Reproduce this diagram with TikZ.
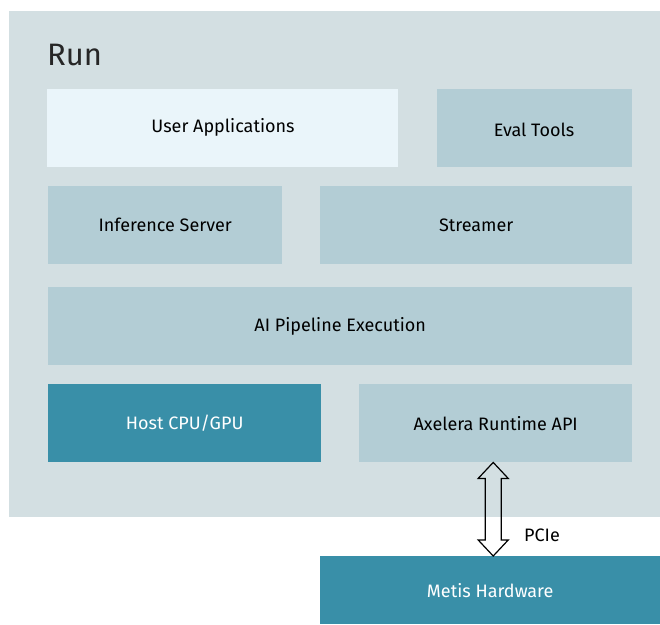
\documentclass[tikz,border=0pt]{standalone}
\usepackage{fontspec}
\setmainfont{Fira Sans}
\begin{document}
\begin{tikzpicture}[x=1pt,y=-1pt,
  panelbox/.style={fill=panelc,draw=none},
  lightbox/.style={fill=boxc,draw=none,inner sep=0pt,anchor=north west,text=black,font=\fontsize{18}{20}\selectfont},
  whitebox/.style={lightbox,fill=appc},
  tealbox/.style={lightbox,fill=tealc,text=white},
  pciearrow/.style={draw=black,line width=1.2pt,line join=miter}]
\definecolor{panelc}{HTML}{D3DFE2}
\definecolor{boxc}{HTML}{B3CDD5}
\definecolor{appc}{HTML}{EAF5FA}
\definecolor{tealc}{HTML}{398FA8}
\useasboundingbox (0,0) rectangle (660,624);
\fill[white] (0,0) rectangle (660,624);
\node[panelbox,inner sep=0pt,anchor=north west,minimum width=651pt,minimum height=506pt] (run) at (9,11) {};
\node[anchor=base west,inner sep=0pt,text=black!85,font=\fontsize{31}{34}\selectfont] (runlabel) at (47,65) {Run};
\node[whitebox,minimum width=351pt,minimum height=78pt] (user) at (47,89) {};
\node[font=\fontsize{18}{20}\selectfont,inner sep=0pt] (usertext) at (223,127) {User Applications};
\node[lightbox,minimum width=195pt,minimum height=78pt] (eval) at (437,89) {};
\node[font=\fontsize{18}{20}\selectfont,inner sep=0pt] (evaltext) at (534,130) {Eval Tools};
\node[lightbox,minimum width=234pt,minimum height=78pt] (inf) at (48,186) {Inference Server};
\node[lightbox,minimum width=312pt,minimum height=78pt] (stream) at (320,186) {Streamer};
\node[lightbox,minimum width=584pt,minimum height=78pt] (pipe) at (48,287) {AI Pipeline Execution};
\node[tealbox,minimum width=273pt,minimum height=78pt] (host) at (48,384) {Host CPU/GPU};
\node[lightbox,minimum width=273pt,minimum height=78pt] (api) at (359,384) {Axelera Runtime API};
\node[tealbox,minimum width=340pt,minimum height=68pt] (metis) at (320,556) {Metis Hardware};
\coordinate (ptop) at ([xshift=-2.5pt]api.south);
\coordinate (pbot) at (ptop |- metis.north);
\draw[pciearrow] (ptop) -- ([xshift=15pt,yshift=-16pt]ptop) -- ([xshift=8pt,yshift=-16pt]ptop)
  -- ([xshift=8pt,yshift=16pt]pbot) -- ([xshift=15pt,yshift=16pt]pbot) -- (pbot)
  -- ([xshift=-15pt,yshift=16pt]pbot) -- ([xshift=-8pt,yshift=16pt]pbot)
  -- ([xshift=-8pt,yshift=-16pt]ptop) -- ([xshift=-15pt,yshift=-16pt]ptop) -- cycle;
\node[anchor=west,inner sep=0pt,font=\fontsize{18}{20}\selectfont] (pcie) at (524,535) {PCIe};
\end{tikzpicture}
\end{document}
